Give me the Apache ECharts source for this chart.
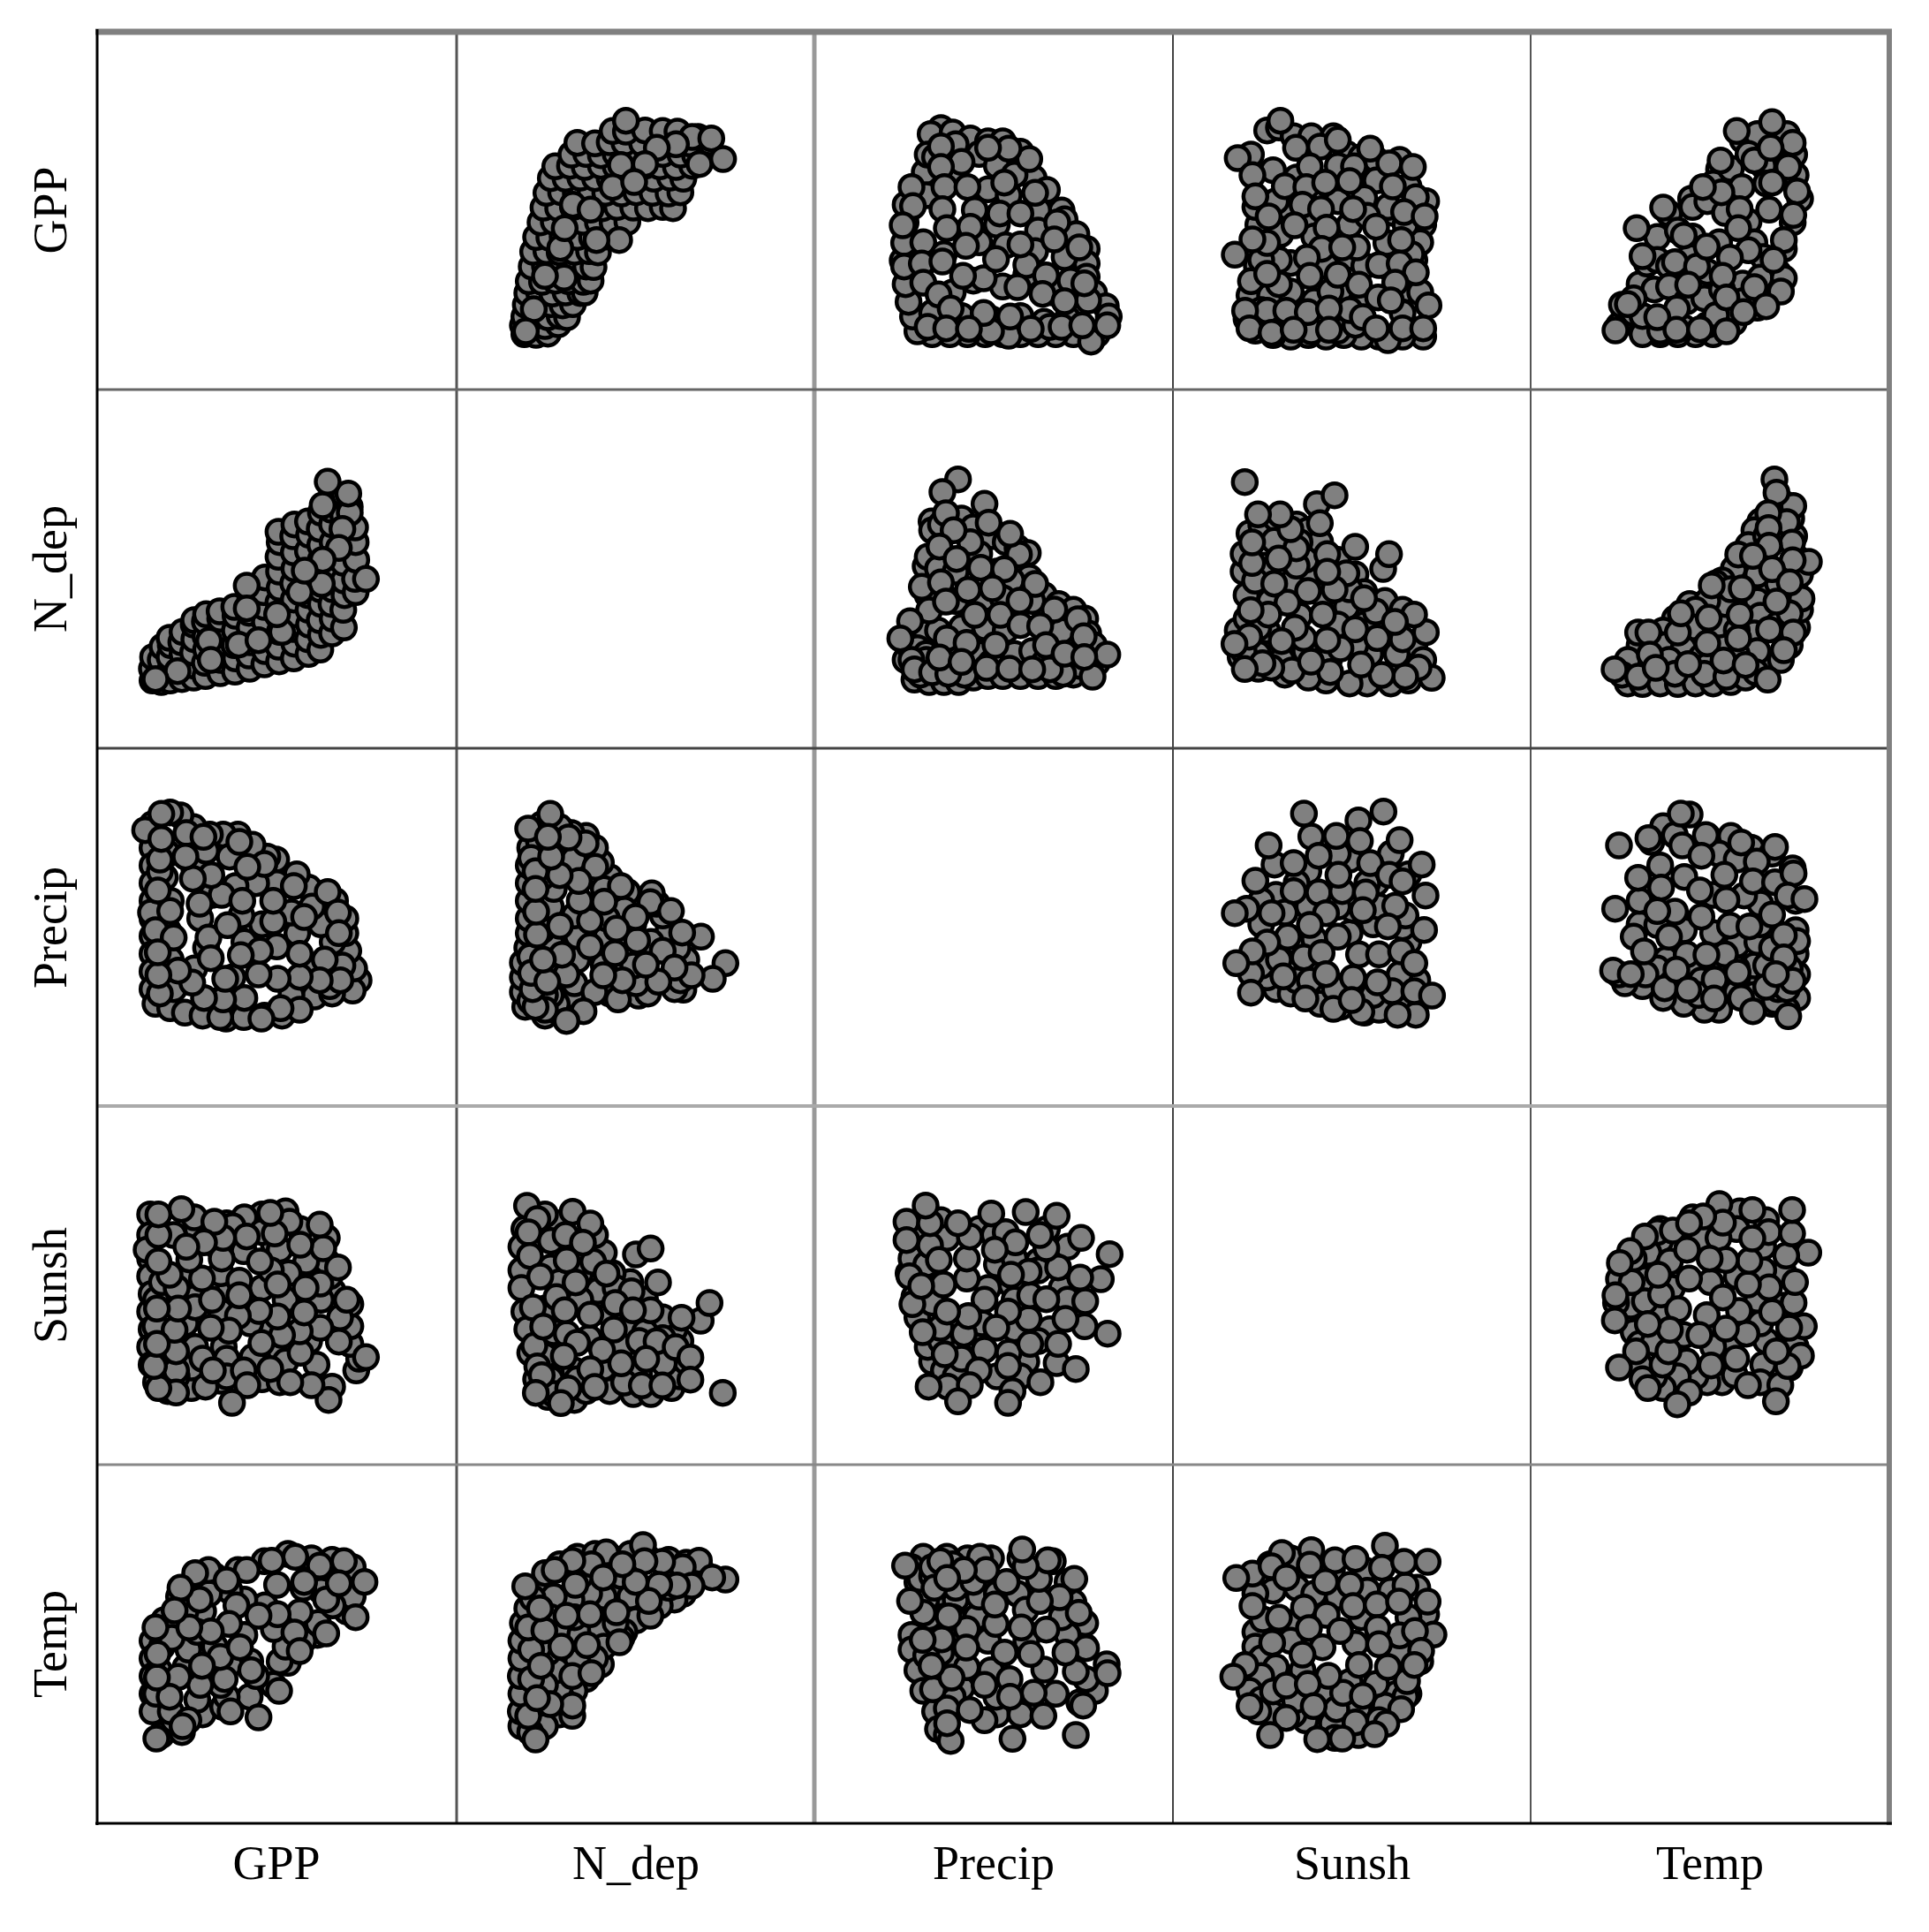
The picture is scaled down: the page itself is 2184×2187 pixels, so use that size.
<!DOCTYPE html>
<html>
<head>
<meta charset="utf-8">
<title>Scatterplot matrix</title>
<style>
  html, body { margin: 0; padding: 0; background: #fff; }
  #chart { width: 2184px; height: 2187px; }
</style>
<script src="https://cdn.jsdelivr.net/npm/echarts@6/dist/echarts.min.js"></script>
</head>
<body>
<div id="chart"></div>
<script>
var varNames = ["GPP", "N_dep", "Precip", "Sunsh", "Temp"];

// Each list holds [first variable, second variable].
// Values are on a 0-1218 scale per variable. Earlier points sit under later ones.
var N_dep_GPP = [
  [230,188],[270,186],[310,190],[225,218],[262,220],[300,216],[345,222],[230,248],[270,250],[310,246],[350,250],[375,246],
  [235,288],[275,286],[320,290],[360,286],[395,290],[240,328],[280,330],[325,326],[370,330],[420,328],[435,330],
  [245,368],[290,366],[335,370],[380,368],[430,366],[455,370],[255,418],[300,420],[345,416],[390,420],[440,418],[465,416],
  [260,468],[305,470],[350,466],[400,468],[450,470],[480,466],[270,518],[315,516],[360,520],[410,518],[460,516],[510,520],[545,516],
  [285,568],[330,570],[380,566],[430,570],[480,568],[530,566],[580,570],[295,618],[345,616],[395,620],[445,618],[495,616],[545,620],[600,618],[650,616],[700,620],[735,616],
  [305,668],[355,670],[405,666],[455,670],[505,668],[560,666],[610,670],[665,668],[720,666],[760,670],[320,718],[370,716],[420,720],[470,718],[520,716],[570,720],[620,718],[670,716],[725,720],[770,716],
  [335,758],[385,760],[435,756],[490,760],[540,758],[590,756],[640,760],[690,758],[745,756],[800,760],[390,798],[440,800],[490,796],[540,800],[600,798],[650,796],[700,800],[760,798],[810,796],
  [410,838],[470,836],[520,840],[570,838],[630,836],[690,840],[740,838],[790,836],[860,840],[530,878],[575,876],[640,880],[700,878],[750,876],
  [575,913],[820,858],[395,628],[365,380],[552,508],[475,508],[352,481],[300,386],[262,273],[235,198],[367,548],[455,611],
  [800,858],[865,853],[745,833],[680,821],[640,766],[558,763],[530,688],[603,705],[825,766],[905,783]
];
var Precip_GPP = [
  [430,888],[395,868],[470,873],[530,853],[590,843],[640,843],[700,808],[715,763],[745,718],[790,678],[840,608],[850,578],[890,528],[925,478],[925,428],[925,383],[950,328],[990,283],[1000,248],[960,188],
  [880,188],[820,188],[760,188],[700,188],[640,188],[580,188],[520,188],[460,188],[400,188],[350,198],[335,248],[320,298],[310,358],[300,438],[305,498],[310,568],[310,628],[375,738],[385,798],
  [410,790],[560,800],[620,760],[680,730],[380,660],[480,720],[590,680],[660,660],[760,610],[760,540],[620,560],[370,500],[440,460],[560,500],[650,490],[750,470],[850,450],[360,410],[470,330],[540,370],[640,350],[720,390],[810,330],[870,370],[400,260],[500,250],[600,240],[700,250],[780,230],[860,240],
  [660,183],[940,163],[800,213],[840,213],[600,198],[385,213],[480,833],[500,773],[730,783],[660,818],[930,303],[720,423],[690,348],[575,378],[305,418],[365,428],
  [430,826],[590,821],[430,756],[330,688],[442,688],[520,688],[645,703],[750,668],[335,623],[435,613],[545,610],[630,598],[700,598],[825,568],[300,558],[450,548],[530,553],[815,510],[515,488],[700,493],[900,483],[617,443],[435,435],[505,386],[787,388],[370,363],[917,361],[422,323],[775,325],[850,300],[463,275],[575,260],[665,248],[448,208],[525,206],[735,206],[910,218],[995,218]
];
var Sunsh_GPP = [
  [320,880],[360,890],[410,860],[470,860],[545,860],[590,800],[640,790],[690,780],[770,780],[650,700],[690,710],[800,690],[860,640],[850,560],[840,500],[820,440],[800,340],[850,180],[780,180],[700,180],[640,180],[580,185],[520,180],[460,185],[400,180],[340,185],[280,200],[250,240],[260,320],[285,420],[290,470],[290,560],[280,620],
  [420,720],[560,760],[650,650],[560,640],[390,620],[350,640],[470,560],[600,560],[750,600],[600,450],[650,420],[400,430],[520,420],[360,440],[300,440],[590,330],[480,300],[640,300],[780,260],[330,320],[300,270],[560,200],[620,220],[600,270],[380,230],[810,460],[740,410],[840,330],[480,520],[790,560],[730,620],[660,590],
  [365,913],[265,798],[730,168],[470,198],[320,268],[535,333],[400,333],[360,358],[265,368],[320,393],[725,498],[625,483],[365,528],[320,498],[670,818],[615,758],[825,653],
  [220,786],[340,745],[418,821],[500,825],[560,848],[465,758],[735,768],[815,756],[270,728],[380,691],[453,688],[517,703],[600,708],[747,690],[280,656],[440,628],[503,613],[612,613],[785,603],[855,588],[325,588],[413,558],[522,550],[690,553],[270,510],[505,478],[575,483],[775,508],[210,458],[455,448],[700,423],[770,428],[825,398],[465,386],[560,390],[632,356],[755,363],[697,313],[740,303],[868,286],[245,268],[385,268],[458,263],[530,275],[645,246],[260,208],[335,193],[410,203],[530,203],[690,208],[780,208],[850,208]
];
var Temp_GPP = [
  [820,888],[870,868],[895,798],[900,728],[915,648],[890,568],[860,478],[840,398],[830,338],[770,278],[690,228],[620,188],[560,188],[500,188],[440,188],[380,188],[300,218],[310,288],[370,358],[395,428],[430,518],[470,598],[545,648],[640,748],[720,848],[770,868],
  [620,700],[680,750],[740,800],[790,760],[800,700],[550,620],[600,640],[660,600],[740,570],[500,540],[550,520],[640,500],[760,500],[790,450],[430,440],[470,420],[540,450],[600,400],[720,360],[780,380],[420,340],[470,350],[530,300],[590,310],[650,340],[720,300],[350,260],[380,250],[440,200],[520,210],[600,220],[680,270],[350,310],
  [820,908],[700,878],[760,778],[645,778],[860,378],[740,473],[630,253],[665,198],[360,548],[450,618],[380,453],[520,523],[490,433],[565,418],
  [890,838],[815,821],[875,756],[820,703],[905,673],[717,688],[648,670],[585,688],[710,613],[810,611],[892,593],[705,548],[860,508],[598,485],[677,448],[825,440],[652,386],[535,356],[760,348],[850,333],[330,290],[665,313],[800,283],[497,275],[430,246],[723,263],[288,201],[495,203],[575,205]
];
var Precip_N_dep = [
  [340,233],[390,225],[440,225],[490,225],[540,240],[590,245],[640,245],[700,245],[760,245],[820,245],[880,250],[960,290],[310,300],[320,350],[385,520],[378,618],[385,650],[398,770],[400,740],[430,760],[500,780],[540,750],[600,720],[650,700],[690,680],[700,620],[730,580],[780,520],[830,490],[880,470],[920,440],[930,390],[950,350],
  [420,610],[480,600],[560,660],[620,600],[670,570],[480,500],[580,510],[640,510],[740,500],[500,410],[580,410],[650,400],[380,390],[420,400],[350,340],[380,320],[460,320],[560,320],[680,320],[740,330],[600,290],[510,250],[380,300],[330,300],[360,250],[900,280],[780,290],
  [945,243],[845,253],[340,268],[400,258],[455,253],[800,268],[725,663],[695,658],[665,728],[530,700],[565,613],[365,548],[750,558],[390,468],[632,453],[840,398],[895,438],
  [488,913],[435,870],[578,830],[447,798],[592,766],[473,740],[425,685],[483,643],[645,608],[430,563],[522,538],[605,543],[447,498],[697,501],[815,471],[545,453],[325,431],[700,418],[767,415],[292,373],[915,380],[450,373],[517,358],[615,351],[787,350],[850,321],[995,318],[917,310],[425,308],[500,293],[585,273],[663,270],[740,268]
];
var N_dep_Sunsh = [
  [230,800],[220,740],[220,660],[220,600],[230,520],[240,460],[250,380],[270,290],[310,230],[400,220],[440,250],[520,250],[600,240],[660,240],[730,260],[760,300],[780,350],[760,420],[740,460],[700,500],[640,560],[590,620],[530,650],[500,720],[470,780],[350,820],[300,850],[320,760],[370,780],[320,670],[420,650],[350,620],[480,590],[540,600],[600,470],[640,450],[700,430],[520,510],[300,530],[420,560],[330,450],[450,430],[560,400],[620,420],[300,370],[400,320],[500,330],[620,310],[320,290],[410,290],[330,240],
  [239,879],[274,834],[244,789],[249,709],[284,639],[609,714],[464,689],[829,489],[659,524],[374,444],[264,404],[274,334],[704,344],[289,304],[569,279],[629,269],[699,269],[269,244],[379,259],
  [394,859],[454,819],[429,754],[374,694],[659,734],[509,649],[404,619],[684,619],[594,589],[339,569],[259,534],[367,524],[539,549],[599,524],[454,509],[859,549],[764,499],[294,469],[534,459],[409,414],[679,419],[744,399],[494,389],[364,369],[794,364],[559,344],[644,359],[454,324],[794,289],[469,264],[354,209],[904,244]
];
var Temp_N_dep = [
  [330,220],[380,218],[440,220],[500,218],[560,220],[620,220],[680,225],[730,240],[800,280],[850,300],[880,350],[905,410],[915,470],[900,530],[915,590],[900,650],[895,720],[885,780],[860,830],[780,770],[760,740],[740,690],[690,610],[650,570],[630,560],[540,490],[490,440],[450,400],[420,360],[370,350],[330,300],[310,250],
  [800,720],[760,640],[790,560],[770,500],[780,450],[760,390],[770,330],[700,320],[650,370],[640,420],[660,490],[600,500],[560,470],[550,410],[460,350],[520,340],[580,310],[470,300],[600,280],[700,400],[840,420],[840,560],[680,540],[770,590],
  [892,823],[870,768],[888,698],[945,633],[920,508],[880,458],[365,393],[500,393],[510,458],[765,258],[490,253],[590,253],[365,243],[665,243],
  [828,913],[835,868],[807,798],[808,748],[810,688],[705,658],[755,653],[890,638],[820,608],[880,563],[615,553],[717,543],[835,498],[710,453],[605,443],[400,393],[810,403],[892,393],[705,373],[600,356],[860,333],[405,318],[655,298],[535,286],[730,283],[285,268],[425,273],[805,233]
];
var Sunsh_Precip = [
  [350,400],[400,385],[500,350],[570,340],[650,320],[700,330],[600,420],[680,380],[550,400],[420,430],[320,440],[300,480],[360,500],[420,560],[480,570],[600,590],[680,620],[800,560],[780,610],[610,670],[700,680],[690,760],[600,840],[560,860],[460,800],[420,760],[350,720],[300,620],[300,700],[380,660],[460,680],[560,680],[830,430],[800,340],[770,450],[790,650],[800,790],[740,860],[660,760],
  [250,673],[345,823],[410,828],[280,768],[410,733],[495,728],[575,733],[655,728],[390,578],[445,508],[265,453],[465,428],[265,388],[450,368],[545,333],[640,323],[825,313],[745,393],[820,393],
  [630,973],[470,918],[555,920],[635,903],[325,888],[770,906],[495,853],[670,828],[845,823],[562,788],[735,788],[780,766],[858,718],[210,658],[335,658],[520,658],[645,668],[755,683],[465,618],[853,601],[730,613],[560,578],[320,558],[270,528],[505,523],[632,518],[700,518],[775,528],[215,488],[820,488],[375,443],[520,451],[612,438],[695,423],[880,378],[607,363],[763,313],[445,996],[715,1003]
];
var Temp_Precip = [
  [540,993],[450,953],[410,900],[600,920],[680,920],[750,880],[820,860],[890,810],[900,700],[900,600],[900,520],[905,450],[905,370],[870,330],[820,350],[680,378],[640,330],[590,330],[520,350],[450,370],[380,410],[320,420],[300,450],[780,420],[760,480],[640,480],[560,470],[460,500],[430,470],[700,550],[770,560],[780,620],[620,590],[520,600],[370,620],[370,700],[440,820],[640,860],[700,840],[620,720],[780,690],[480,420],[390,450],[580,430],[760,380],[830,360],[840,400],[870,400],[880,470],[800,480],[820,540],[700,470],[570,380],[700,390],
  [490,923],[515,888],[715,898],[830,883],[725,718],[660,518],[905,563],[430,618],[350,578],[490,663],[280,463],[800,408],[455,403],[875,308],[890,428],
  [510,996],[400,913],[595,923],[580,853],[768,833],[365,778],[522,781],[658,788],[755,766],[830,763],[893,793],[443,745],[575,735],[665,703],[873,718],[930,706],[430,665],[580,646],[820,653],[677,616],[743,613],[470,578],[860,583],[385,528],[530,518],[597,516],[860,508],[340,451],[495,466],[625,433],[703,456],[833,451],[535,398],[623,368],[715,370],[755,325],[287,673],[300,888]
];
var Sunsh_Temp = [
  [400,900],[330,880],[260,830],[540,860],[650,860],[420,800],[340,790],[280,780],[480,780],[560,770],[660,790],[740,790],[830,800],[860,710],[800,700],[640,700],[400,680],[280,650],[280,600],[400,620],[620,610],[770,580],[840,550],[300,560],[350,530],[440,520],[600,480],[800,440],[760,440],[300,500],[260,450],[300,420],[340,370],[450,400],[520,440],[630,390],[720,400],[790,430],[700,350],[540,340],[450,350],[550,290],[630,300],[410,370],[290,380],
  [470,928],[720,943],[370,918],[550,893],[270,848],[790,808],[305,693],[360,698],[245,538],[340,448],[260,398],[415,418],[555,388],[690,473],[578,443],[795,483],[885,641],[770,638],
  [215,833],[335,873],[620,898],[465,878],[710,868],[785,888],[865,888],[385,835],[518,820],[602,810],[270,738],[445,733],[522,708],[612,738],[692,743],[768,753],[865,753],[462,663],[568,653],[695,663],[822,653],[337,613],[508,598],[700,608],[843,586],[440,573],[632,538],[730,531],[820,538],[205,498],[528,501],[385,468],[458,473],[645,433],[478,398],[775,388],[385,358],[620,343],[725,338],[685,303],[330,300],[490,286],[575,288]
];

var pairLists = {
  "N_dep/GPP": N_dep_GPP, "Precip/GPP": Precip_GPP, "Sunsh/GPP": Sunsh_GPP, "Temp/GPP": Temp_GPP,
  "Precip/N_dep": Precip_N_dep, "N_dep/Sunsh": N_dep_Sunsh, "Temp/N_dep": Temp_N_dep,
  "Sunsh/Precip": Sunsh_Precip, "Temp/Precip": Temp_Precip, "Sunsh/Temp": Sunsh_Temp
};

var colLeft = [110, 517, 922, 1328, 1733];
var rowTop = [35, 441, 847, 1252, 1658];
var cellSize = 406;
var scaleMax = 1218;
var labelFont = { fontFamily: "Liberation Serif", fontSize: 54, color: "#000" };

// The same pair shows up on both sides of the diagonal, with its axes swapped
function panelData(xName, yName) {
  var list = pairLists[xName + "/" + yName];
  if (list) return list;
  return pairLists[yName + "/" + xName].map(function (p) { return [p[1], p[0]]; });
}

var grids = [], xAxes = [], yAxes = [], seriesList = [];
varNames.forEach(function (rowName, r) {
  varNames.forEach(function (colName, c) {
    var i = grids.length;
    grids.push({ left: colLeft[c], top: rowTop[r], width: cellSize, height: cellSize });
    xAxes.push({
      gridIndex: i, type: "value", min: 0, max: scaleMax,
      axisLine: { show: false }, axisTick: { show: false }, axisLabel: { show: false }, splitLine: { show: false },
      name: r === 4 ? colName : "", nameLocation: "middle", nameGap: 49,
      nameTextStyle: Object.assign({ verticalAlign: "middle" }, labelFont)
    });
    yAxes.push({
      gridIndex: i, type: "value", min: 0, max: scaleMax,
      axisLine: { show: false }, axisTick: { show: false }, axisLabel: { show: false }, splitLine: { show: false },
      name: c === 0 ? rowName : "", nameLocation: "middle", nameGap: 49, nameRotate: 90,
      nameTextStyle: Object.assign({ verticalAlign: "middle" }, labelFont)
    });
    if (r !== c) {
      seriesList.push({
        type: "scatter", xAxisIndex: i, yAxisIndex: i, silent: true,
        data: panelData(colName, rowName),
        symbol: "circle", symbolSize: 27,
        itemStyle: { color: "#808080", borderColor: "#000", borderWidth: 4.5, opacity: 1 }
      });
    }
  });
});

// Frame of the matrix, the lines vary in weight and grey in the original
function frameLine(x1, y1, x2, y2, color, width) {
  return { type: "line", shape: { x1: x1, y1: y1, x2: x2, y2: y2 }, style: { stroke: color, lineWidth: width }, z: 10 };
}
var frame = [
  frameLine(517, 35, 517, 2064, "#555", 3),
  frameLine(922, 35, 922, 2064, "#999", 5),
  frameLine(1328, 35, 1328, 2064, "#444", 2),
  frameLine(1733, 35, 1733, 2064, "#555", 2),
  frameLine(110, 441, 2139, 441, "#666", 3),
  frameLine(110, 847, 2139, 847, "#444", 3),
  frameLine(110, 1252, 2139, 1252, "#aaa", 4),
  frameLine(110, 1658, 2139, 1658, "#888", 3),
  frameLine(108, 36, 2142, 36, "#808080", 7),
  frameLine(2139, 33, 2139, 2066, "#808080", 6),
  frameLine(110, 33, 110, 2066, "#000", 3),
  frameLine(108, 2064, 2142, 2064, "#000", 3)
];

var chart = echarts.init(document.getElementById("chart"), null, { renderer: "canvas" });
chart.setOption({
  animation: false,
  backgroundColor: "#fff",
  grid: grids,
  xAxis: xAxes,
  yAxis: yAxes,
  series: seriesList,
  graphic: frame
});
</script>
</body>
</html>
